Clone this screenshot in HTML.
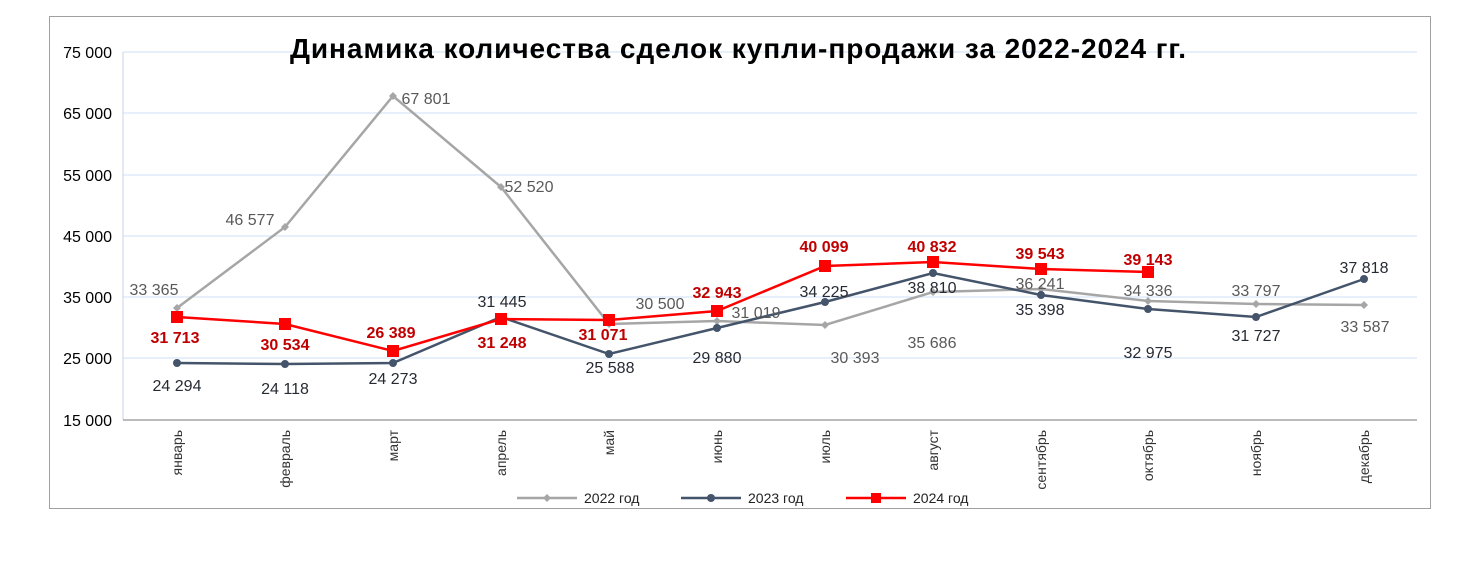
<!DOCTYPE html>
<html><head><meta charset="utf-8"><style>
body{margin:0;background:#fff;}
svg{display:block;font-family:"Liberation Sans",Arial,sans-serif;}
</style></head><body>
<svg width="1464" height="565" viewBox="0 0 1464 565">
<rect x="49.5" y="16.5" width="1381" height="492" fill="#fff" stroke="#a0a0a0"/>
<g stroke="#cfe0f5" stroke-width="1">
<line x1="123" x2="1417" y1="52" y2="52"/><line x1="123" x2="1417" y1="113" y2="113"/>
<line x1="123" x2="1417" y1="175" y2="175"/><line x1="123" x2="1417" y1="236" y2="236"/>
<line x1="123" x2="1417" y1="297" y2="297"/><line x1="123" x2="1417" y1="358" y2="358"/>
</g>
<line x1="123" x2="123" y1="52" y2="420" stroke="#c8d4e4"/>
<line x1="123" x2="1417" y1="420" y2="420" stroke="#a6a6a6" stroke-width="1.5"/>
<g font-size="16" fill="#000" text-anchor="end">
<text x="112" y="58">75 000</text><text x="112" y="119">65 000</text><text x="112" y="181">55 000</text>
<text x="112" y="242">45 000</text><text x="112" y="303">35 000</text><text x="112" y="364">25 000</text><text x="112" y="426">15 000</text>
</g>
<text x="738" y="58" font-size="28" font-weight="bold" text-anchor="middle" textLength="896" lengthAdjust="spacing">Динамика количества сделок купли-продажи за 2022-2024  гг.</text>
<g font-size="14" fill="#333" text-anchor="end">
<text transform="translate(182,430) rotate(-90)">январь</text>
<text transform="translate(290,430) rotate(-90)">февраль</text>
<text transform="translate(398,430) rotate(-90)">март</text>
<text transform="translate(506,430) rotate(-90)">апрель</text>
<text transform="translate(614,430) rotate(-90)">май</text>
<text transform="translate(722,430) rotate(-90)">июнь</text>
<text transform="translate(830,430) rotate(-90)">июль</text>
<text transform="translate(938,430) rotate(-90)">август</text>
<text transform="translate(1046,430) rotate(-90)">сентябрь</text>
<text transform="translate(1153,430) rotate(-90)">октябрь</text>
<text transform="translate(1261,430) rotate(-90)">ноябрь</text>
<text transform="translate(1369,430) rotate(-90)">декабрь</text>
</g>
<polyline fill="none" stroke="#a6a6a6" stroke-width="2.5" points="177,308 285,227 393,96 501,187 609,324 717,321 825,325 933,292 1041,289 1148,301 1256,304 1364,305"/>
<g fill="#a6a6a6">
<path d="M177,304l4,4l-4,4l-4,-4z"/><path d="M285,223l4,4l-4,4l-4,-4z"/><path d="M393,92l4,4l-4,4l-4,-4z"/><path d="M501,183l4,4l-4,4l-4,-4z"/><path d="M609,320l4,4l-4,4l-4,-4z"/><path d="M717,317l4,4l-4,4l-4,-4z"/><path d="M825,321l4,4l-4,4l-4,-4z"/><path d="M933,288l4,4l-4,4l-4,-4z"/><path d="M1041,285l4,4l-4,4l-4,-4z"/><path d="M1148,297l4,4l-4,4l-4,-4z"/><path d="M1256,300l4,4l-4,4l-4,-4z"/><path d="M1364,301l4,4l-4,4l-4,-4z"/>
</g>
<polyline fill="none" stroke="#44546a" stroke-width="2.5" points="177,363 285,364 393,363 501,317 609,354 717,328 825,302 933,273 1041,295 1148,309 1256,317 1364,279"/>
<g fill="#44546a">
<circle cx="177" cy="363" r="4"/><circle cx="285" cy="364" r="4"/><circle cx="393" cy="363" r="4"/><circle cx="501" cy="317" r="4"/><circle cx="609" cy="354" r="4"/><circle cx="717" cy="328" r="4"/><circle cx="825" cy="302" r="4"/><circle cx="933" cy="273" r="4"/><circle cx="1041" cy="295" r="4"/><circle cx="1148" cy="309" r="4"/><circle cx="1256" cy="317" r="4"/><circle cx="1364" cy="279" r="4"/>
</g>
<polyline fill="none" stroke="#ff0000" stroke-width="2.5" points="177,317 285,324 393,351 501,319 609,320 717,311 825,266 933,262 1041,269 1148,272"/>
<g fill="#ff0000">
<rect x="171" y="311" width="12" height="12"/><rect x="279" y="318" width="12" height="12"/><rect x="387" y="345" width="12" height="12"/><rect x="495" y="313" width="12" height="12"/><rect x="603" y="314" width="12" height="12"/><rect x="711" y="305" width="12" height="12"/><rect x="819" y="260" width="12" height="12"/><rect x="927" y="256" width="12" height="12"/><rect x="1035" y="263" width="12" height="12"/><rect x="1142" y="266" width="12" height="12"/>
</g>
<g font-size="16" fill="#595959" text-anchor="middle">
<text x="154" y="295">33 365</text><text x="250" y="225">46 577</text><text x="426" y="104">67 801</text><text x="529" y="192">52 520</text><text x="660" y="309">30 500</text><text x="756" y="318">31 019</text><text x="855" y="363">30 393</text><text x="932" y="348">35 686</text><text x="1040" y="289">36 241</text><text x="1148" y="296">34 336</text><text x="1256" y="296">33 797</text><text x="1365" y="332">33 587</text>
</g>
<g font-size="16" fill="#262a33" text-anchor="middle">
<text x="177" y="391">24 294</text><text x="285" y="394">24 118</text><text x="393" y="384">24 273</text><text x="502" y="307">31 445</text><text x="610" y="373">25 588</text><text x="717" y="363">29 880</text><text x="824" y="297">34 225</text><text x="932" y="293">38 810</text><text x="1040" y="315">35 398</text><text x="1148" y="358">32 975</text><text x="1256" y="341">31 727</text><text x="1364" y="273">37 818</text>
</g>
<g font-size="16" font-weight="bold" fill="#c00000" text-anchor="middle">
<text x="175" y="343">31 713</text><text x="285" y="350">30 534</text><text x="391" y="338">26 389</text><text x="502" y="348">31 248</text><text x="603" y="340">31 071</text><text x="717" y="298">32 943</text><text x="824" y="252">40 099</text><text x="932" y="252">40 832</text><text x="1040" y="259">39 543</text><text x="1148" y="265">39 143</text>
</g>
<g font-size="14" fill="#222">
<line x1="517" x2="577" y1="498" y2="498" stroke="#a6a6a6" stroke-width="2.5"/><path d="M547,494l4,4l-4,4l-4,-4z" fill="#a6a6a6"/>
<text x="584" y="503">2022 год</text>
<line x1="681" x2="741" y1="498" y2="498" stroke="#44546a" stroke-width="2.5"/><circle cx="711" cy="498" r="4" fill="#44546a"/>
<text x="748" y="503">2023 год</text>
<line x1="846" x2="906" y1="498" y2="498" stroke="#ff0000" stroke-width="2.5"/><rect x="871" y="493" width="10" height="10" fill="#ff0000"/>
<text x="913" y="503">2024 год</text>
</g>
</svg>
</body></html>
